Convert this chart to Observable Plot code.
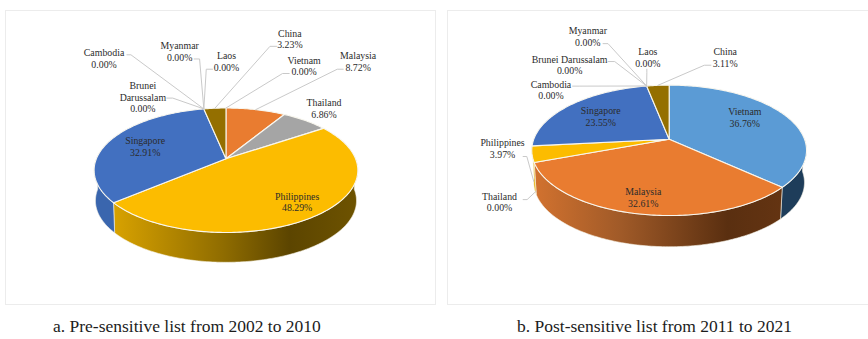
<!DOCTYPE html>
<html>
<head>
<meta charset="utf-8">
<script src="https://cdn.jsdelivr.net/npm/d3@7"></script>
<script src="https://cdn.jsdelivr.net/npm/@observablehq/plot@0.6"></script>
<style>
  html, body { margin: 0; background: #fff; }
  body { width: 868px; height: 339px; position: relative; overflow: hidden; font-family: "Liberation Serif", serif; }
  .panel { position: absolute; box-sizing: border-box; border: 1.5px solid #ececec; background: #fff; }
  .panel svg { display: block; position: absolute; left: -1.5px; top: -1.5px; }
  .caption { position: absolute; top: 316px; font-size: 17.5px; line-height: 20px; color: #1c1c1c; white-space: nowrap; }
</style>
</head>
<body>
<script>
// Shares of each country, clockwise from twelve o'clock.
const countries = ["Vietnam", "Malaysia", "Thailand", "Philippines", "Singapore",
                   "Brunei Darussalam", "Cambodia", "Myanmar", "Laos", "China"];
const preShares = [0.00, 8.72, 6.86, 48.29, 32.91, 0.00, 0.00, 0.00, 0.00, 3.23];
const postShares = [36.76, 32.61, 0.00, 3.97, 23.55, 0.00, 0.00, 0.00, 0.00, 3.11];
const topColors = ["#5b9bd5", "#e97c30", "#a5a5a5", "#fcbc00", "#4270c0",
                   "#4e74b8", "#7a7a7a", "#8a5a20", "#c9a227", "#946f00"];

// Side-wall shading, left to right across each visible wall.
const preWalls = {
  Philippines: [[0, "#d8a200"], [0.45, "#8f6c00"], [0.72, "#5c4500"], [1, "#6e5300"]],
  Singapore: [[0, "#3a66ae"], [1, "#3a66ae"]]
};
const postWalls = {
  Vietnam: [[0, "#1e3d5a"], [1, "#1e3d5a"]],
  Malaysia: [[0, "#d2722f"], [0.35, "#a05a28"], [0.78, "#5a2f10"], [1, "#643412"]],
  Philippines: [[0, "#e6ae00"], [1, "#e6ae00"]]
};

// Label placement: text centre, then leader start and elbow where there is a leader.
const preLabelSpots = [
  {name: "Malaysia", x: 359.3, y: 61, start: [344.3, 69], elbow: [338.3, 69]},
  {name: "Thailand", x: 325, y: 108.5},
  {name: "Vietnam", x: 305, y: 65.7, start: [290, 73.3], elbow: [283.3, 73.3]},
  {name: "China", x: 290.7, y: 38.2, start: [277.3, 46], elbow: [270.7, 46]},
  {name: "Laos", x: 227, y: 61, start: [213, 69], elbow: [206.7, 69]},
  {name: "Myanmar", x: 180, y: 51, start: [194.5, 58.7], elbow: [200, 58.7]},
  {name: "Cambodia", x: 104, y: 58.2, start: [127, 54.5], elbow: [131, 54.5]},
  {name: "Brunei\nDarussalam", key: "Brunei Darussalam", x: 143, y: 97, start: [167, 98], elbow: [173, 98]},
  {name: "Singapore", x: 145.3, y: 146.5},
  {name: "Philippines", x: 298, y: 202.5}
];
const postLabelSpots = [
  {name: "Vietnam", x: 745.7, y: 117.5},
  {name: "Malaysia", x: 643.7, y: 197.7},
  {name: "Singapore", x: 601, y: 116.3},
  {name: "Thailand", x: 499.3, y: 202.3, start: [523, 200], elbow: [527, 200], wall: 0.9},
  {name: "Philippines", x: 502.3, y: 148.3, start: [523, 156.7], elbow: [526.7, 156.7], wall: 0.85},
  {name: "Myanmar", x: 588, y: 36, start: [603.3, 43.3], elbow: [608.3, 43.3]},
  {name: "Brunei Darussalam", x: 569.7, y: 64.7, start: [608.3, 61.3], elbow: [615, 61.3]},
  {name: "Laos", x: 648.3, y: 57, start: [647.3, 69], elbow: [647.3, 72]},
  {name: "China", x: 726, y: 57, start: [711.7, 65], elbow: [705, 65]},
  {name: "Cambodia", x: 551, y: 89.7, start: [572.7, 86], elbow: [580, 86]}
];

// Each pie is a perspective view of a tilted disc.
function drawPie({shares, walls, spots, frame, disc, id}) {
  const {cx, cy, a, b, k, drop, shrink} = disc;
  const project = (deg, depth = 0) => {
    const t = deg * Math.PI / 180, u = Math.sin(t), v = -Math.cos(t), w = 1 - k * v;
    const s = 1 - (1 - shrink) * depth;
    return [cx + s * a * u / w, cy + drop * depth + s * b * v / w];
  };
  const arc = (from, to, depth = 0) =>
    [...d3.range(from, to, 1), to].map((deg) => project(deg, depth));

  const slices = d3.pie().sort(null).value((d) => d.share)
    (countries.map((name, i) => ({name, share: shares[i], color: topColors[i]})))
    .map((p) => ({...p.data, a0: p.startAngle * 180 / Math.PI, a1: p.endAngle * 180 / Math.PI}));
  const visible = slices.filter((d) => d.share > 0);

  const defs = () => {
    const svg = d3.create("svg:defs");
    for (const [name, stops] of Object.entries(walls)) {
      const g = svg.append("linearGradient").attr("id", `${id}-${name}`);
      for (const [offset, color] of stops) g.append("stop").attr("offset", offset).attr("stop-color", color);
    }
    return svg.node();
  };

  const wallMarks = visible.filter((d) => walls[d.name]).map((d) => {
    const lo = Math.max(d.a0, 90), hi = Math.min(d.a1, 270);
    const outline = [...arc(lo, hi), ...arc(lo, hi, 1).reverse()];
    outline.push(outline[0]);
    return Plot.line(outline, {fill: `url(#${id}-${d.name})`, stroke: "#f7f3e8", strokeWidth: 0.6, strokeLinejoin: "round"});
  });

  const faceMarks = visible.map((d) =>
    Plot.line([[cx, cy], ...arc(d.a0, d.a1), [cx, cy]],
      {fill: d.color, stroke: "#f8f6ee", strokeWidth: 1.1, strokeLinejoin: "round"}));

  const labels = spots.map((spot) => {
    const key = spot.key ?? spot.name;
    return {...spot, key, slice: slices.find((d) => d.name === key)};
  });

  const leaderMarks = labels.filter((d) => d.start).map((d) => {
    const mid = (d.slice.a0 + d.slice.a1) / 2;
    return Plot.line([d.start, d.elbow, project(mid, d.wall ?? 0)],
      {stroke: "#c9c9c9", strokeWidth: 1});
  });

  const textMark = Plot.text(labels, {
    x: "x",
    y: "y",
    text: (d) => `${d.name}\n${d.slice.share.toFixed(2)}%`,
    fontFamily: "Liberation Serif",
    fontSize: 9.9,
    lineHeight: 1.16,
    fill: "#2b2b2b"
  });

  return Plot.plot({
    width: frame.x1 - frame.x0,
    height: frame.y1 - frame.y0,
    margin: 0,
    axis: null,
    x: {domain: [frame.x0, frame.x1], range: [0, frame.x1 - frame.x0]},
    y: {domain: [frame.y0, frame.y1], range: [0, frame.y1 - frame.y0]},
    style: {background: "transparent", overflow: "visible"},
    marks: [defs, ...wallMarks, ...faceMarks, ...leaderMarks, textMark]
  });
}

function addPanel(options, caption, captionLeft) {
  const {x0, x1, y0, y1} = options.frame;
  const panel = document.createElement("div");
  panel.className = "panel";
  panel.style.cssText = `left:${x0}px;top:${y0}px;width:${x1 - x0}px;height:${y1 - y0}px`;
  panel.append(drawPie(options));
  document.body.append(panel);
  const text = document.createElement("div");
  text.className = "caption";
  text.style.left = `${captionLeft}px`;
  text.textContent = caption;
  document.body.append(text);
}

addPanel({
  id: "pre", shares: preShares, walls: preWalls, spots: preLabelSpots,
  frame: {x0: 5, x1: 436, y0: 10, y1: 304.5},
  disc: {cx: 226.5, cy: 159, a: 130.2, b: 60.4, k: 0.184, drop: 30.7, shrink: 0.99}
}, "a. Pre-sensitive list from 2002 to 2010", 53);

addPanel({
  id: "post", shares: postShares, walls: postWalls, spots: postLabelSpots,
  frame: {x0: 447, x1: 872, y0: 10, y1: 304.5},
  disc: {cx: 669.7, cy: 139.3, a: 136, b: 63.6, k: 0.171, drop: 32.5, shrink: 0.985}
}, "b. Post-sensitive list from 2011 to 2021", 517);
</script>
</body>
</html>
